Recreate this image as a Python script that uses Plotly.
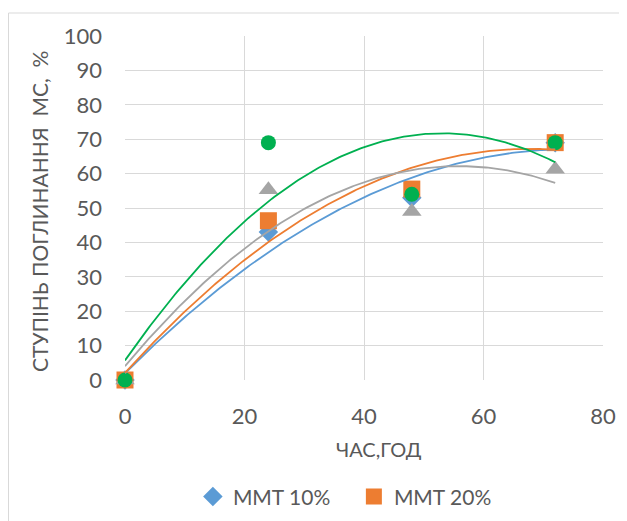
import numpy as np
import plotly.graph_objects as go

hours = [0, 24, 48, 72]
mmt10 = [0, 43, 53, 69]
mmt20 = [0, 46.3, 55.5, 69]
series3 = [0, 55.3, 49, 61.3]
series4 = [0, 69, 54, 69]

names = ["MMT 10%", "MMT 20%", "Series3", "Series4"]
colors = ["#5B9BD5", "#ED7D31", "#A5A5A5", "#00B050"]
symbols = ["diamond", "square", "triangle-up", "circle"]
sizes = [15, 17, 17, 15]
data = [mmt10, mmt20, series3, series4]

FONT = "Lato, 'Open Sans', sans-serif"
fig = go.Figure()

for i, ys in enumerate(data):
    fig.add_trace(go.Scatter(
        x=hours, y=ys, mode="markers", name=names[i],
        marker=dict(symbol=symbols[i], color=colors[i], size=sizes[i], line=dict(width=0)),
        showlegend=(i < 2), cliponaxis=False,
    ))

xs = np.linspace(0, 72, 200)
for i, ys in enumerate(data):
    c = np.polyfit(hours, ys, 2)
    fig.add_trace(go.Scatter(
        x=xs, y=np.polyval(c, xs), mode="lines",
        line=dict(color=colors[i], width=1.8), showlegend=False,
        hoverinfo="skip", cliponaxis=False,
    ))

fig.update_layout(
    width=619, height=513,
    margin=dict(l=117, r=24, t=28, b=141, autoexpand=False),
    paper_bgcolor="white", plot_bgcolor="white",
    font=dict(family=FONT, color="#595959"),
    xaxis=dict(range=[0, 80], dtick=20, showgrid=True, gridcolor="#D9D9D9", gridwidth=1,
               zeroline=False, showline=False, ticks="", tickfont=dict(size=22),
               ticklabelstandoff=21, automargin=False),
    yaxis=dict(range=[0, 100], dtick=10, showgrid=True, gridcolor="#D9D9D9", gridwidth=1,
               zeroline=False, showline=False, ticks="", tickfont=dict(size=22),
               ticklabelstandoff=22, automargin=False),
    legend=dict(orientation="h", x=0.142, xanchor="left", y=-0.340, yanchor="middle",
                font=dict(size=21), entrywidth=116, itemwidth=30),
    annotations=[
        dict(text="СТУПІНЬ ПОГЛИНАННЯ  МС,  %", xref="paper", yref="paper",
             x=-0.180, y=0.491, textangle=-90, showarrow=False,
             xanchor="center", yanchor="middle", font=dict(size=21)),
        dict(text="ЧАС,ГОД", xref="paper", yref="paper",
             x=0.532, y=-0.2006, showarrow=False,
             xanchor="center", yanchor="middle", font=dict(size=20)),
    ],
    shapes=[dict(type="rect", xref="paper", yref="paper",
                 x0=-0.2437, x1=1.3, y0=-0.6, y1=(380 - 13) / 344,
                 line=dict(color="#D9D9D9", width=1), layer="below")],
)

fig.write_html("out.html")
